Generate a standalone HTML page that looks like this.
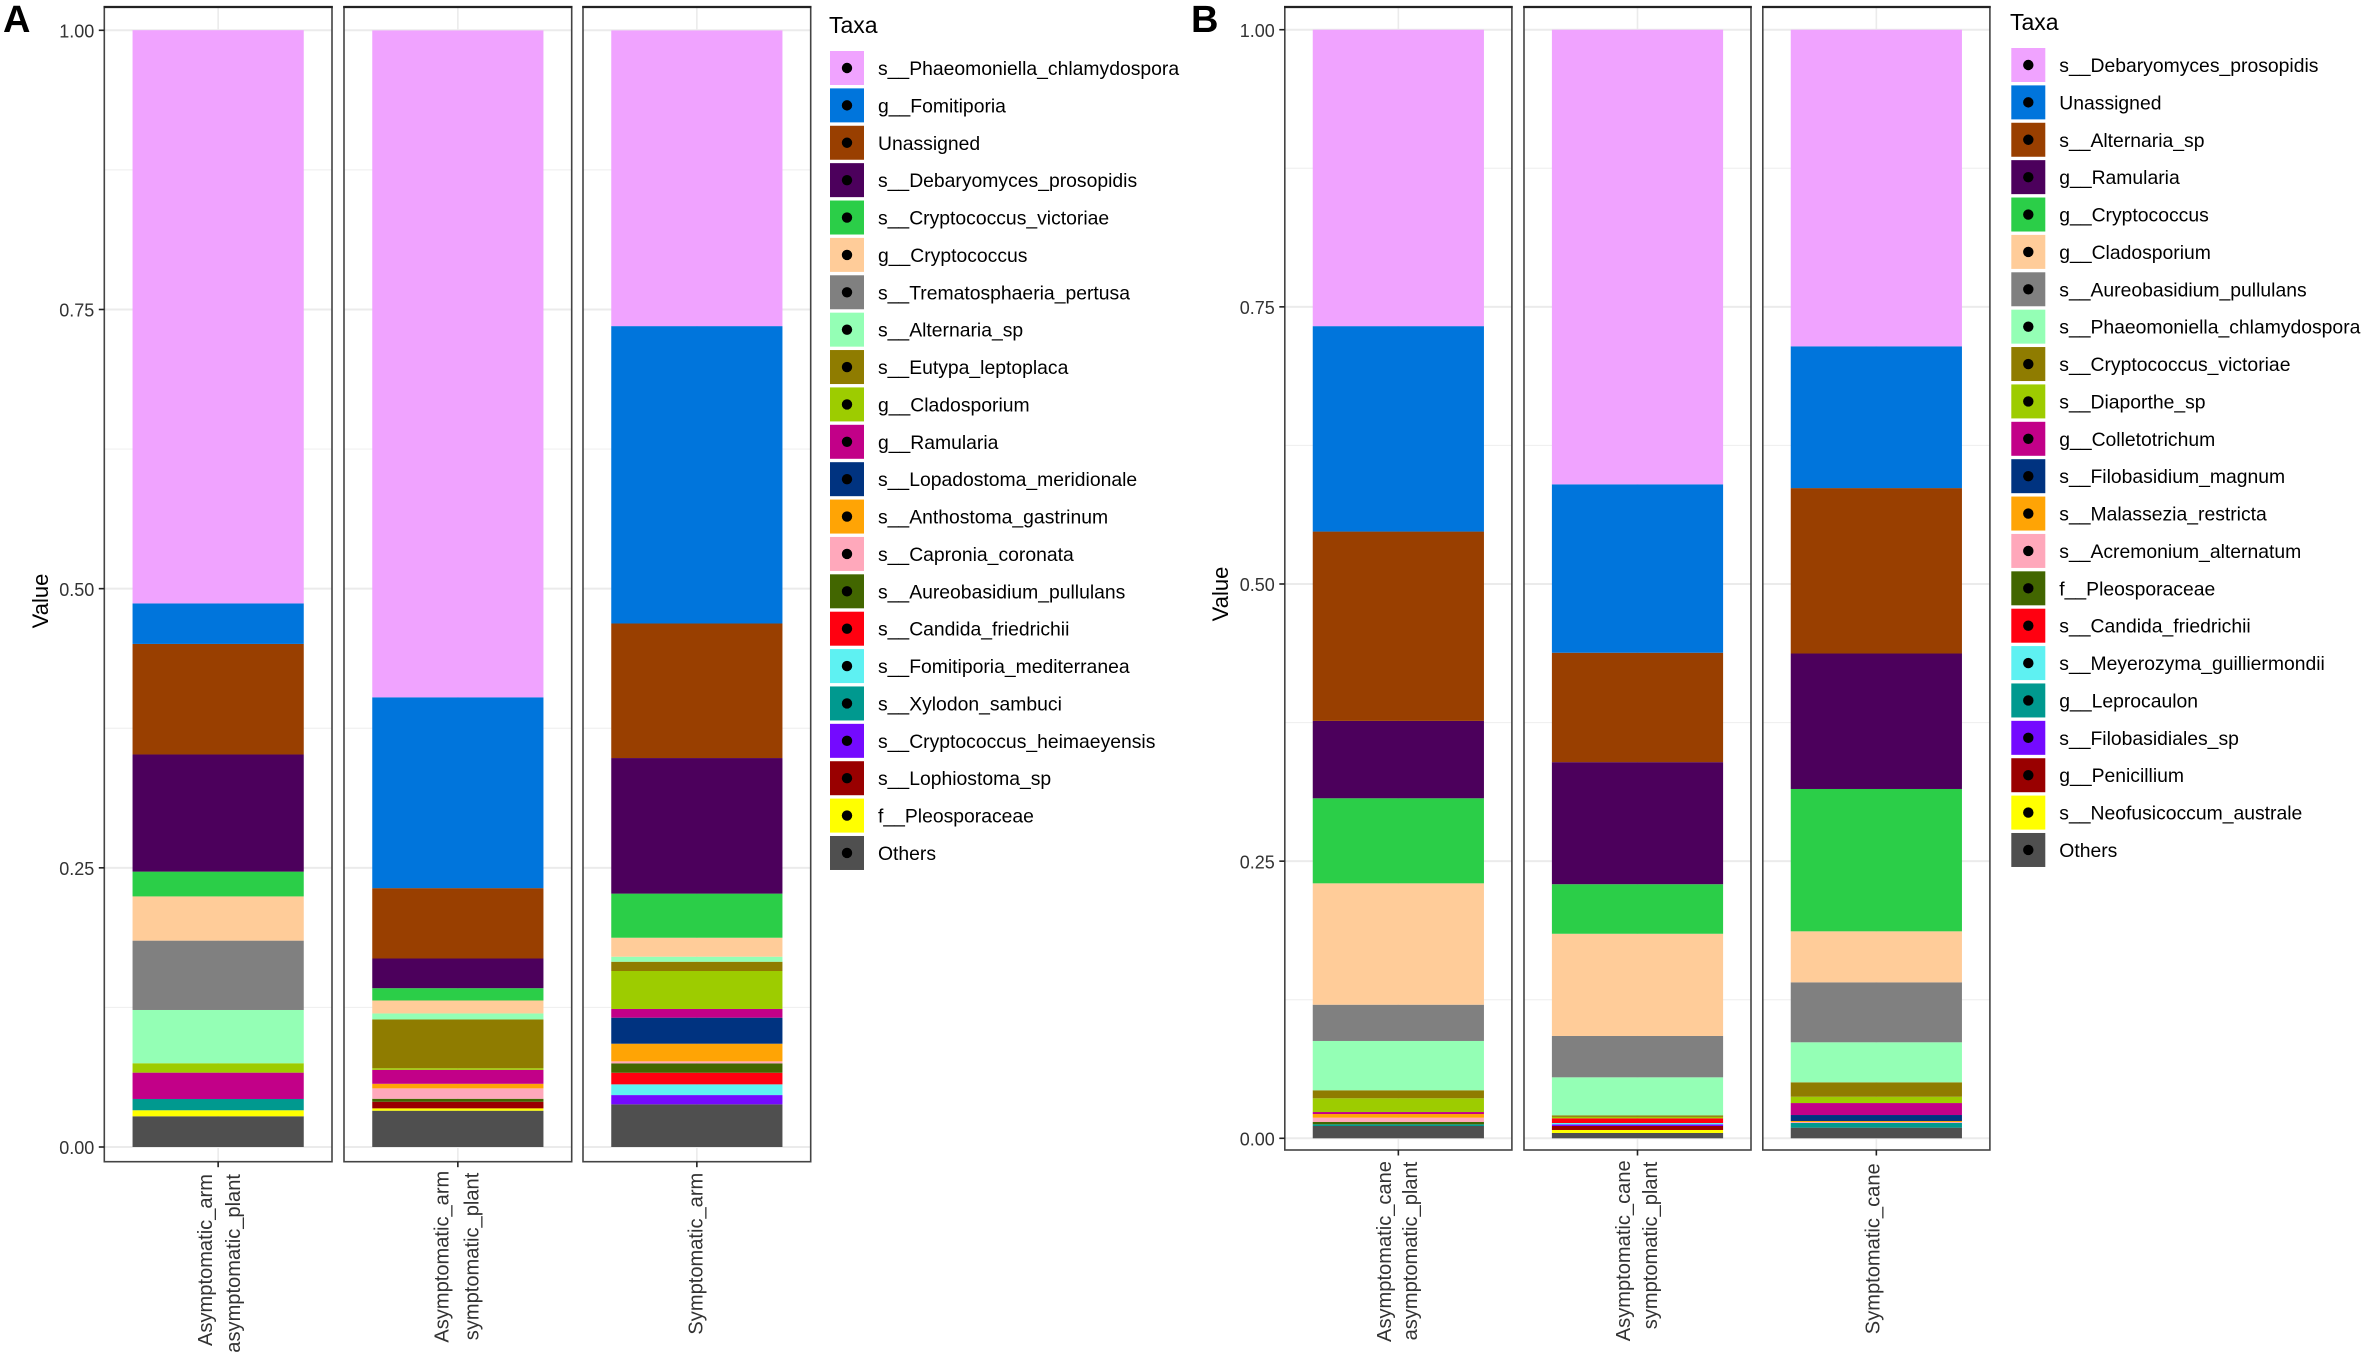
<!DOCTYPE html>
<html lang="en">
<head>
<meta charset="utf-8">
<title>Taxa relative abundance stacked bars</title>
<style>
html,body{margin:0;padding:0;background:#fff;width:2369px;height:1360px;overflow:hidden}
svg{display:block;font-family:"Liberation Sans",Arial,sans-serif}
</style>
</head>
<body>
<svg id="figure" xmlns="http://www.w3.org/2000/svg" width="2369" height="1360" viewBox="0 0 2369 1360">
  <rect x="0" y="0" width="2369" height="1360" fill="#fff"/>
  <text x="3" y="32" font-size="38" font-weight="bold" fill="#000">A</text>
  <text x="1191" y="32" font-size="38" font-weight="bold" fill="#000">B</text>
  <text transform="translate(48,601) rotate(-90)" text-anchor="middle" font-size="22" fill="#000">Value</text>
  <text transform="translate(1228,594) rotate(-90)" text-anchor="middle" font-size="22" fill="#000">Value</text>
  <text x="829" y="33" font-size="23" fill="#000">Taxa</text>
  <text x="2010" y="30" font-size="23" fill="#000">Taxa</text>
  <g id="chart-a"></g>
  <g id="chart-b"></g>
  <g id="legend-a"></g>
  <g id="legend-b"></g>
</svg>
<script>
const taxaA = ["s__Phaeomoniella_chlamydospora","g__Fomitiporia","Unassigned","s__Debaryomyces_prosopidis","s__Cryptococcus_victoriae","g__Cryptococcus","s__Trematosphaeria_pertusa","s__Alternaria_sp","s__Eutypa_leptoplaca","g__Cladosporium","g__Ramularia","s__Lopadostoma_meridionale","s__Anthostoma_gastrinum","s__Capronia_coronata","s__Aureobasidium_pullulans","s__Candida_friedrichii","s__Fomitiporia_mediterranea","s__Xylodon_sambuci","s__Cryptococcus_heimaeyensis","s__Lophiostoma_sp","f__Pleosporaceae","Others"];
const taxaB = ["s__Debaryomyces_prosopidis","Unassigned","s__Alternaria_sp","g__Ramularia","g__Cryptococcus","g__Cladosporium","s__Aureobasidium_pullulans","s__Phaeomoniella_chlamydospora","s__Cryptococcus_victoriae","s__Diaporthe_sp","g__Colletotrichum","s__Filobasidium_magnum","s__Malassezia_restricta","s__Acremonium_alternatum","f__Pleosporaceae","s__Candida_friedrichii","s__Meyerozyma_guilliermondii","g__Leprocaulon","s__Filobasidiales_sp","g__Penicillium","s__Neofusicoccum_australe","Others"];
const palette = ["#F0A3FF","#0075DC","#993F00","#4C005C","#2BCE48","#FFCC99","#808080","#94FFB5","#8F7C00","#9DCC00","#C20088","#003380","#FFA405","#FFA8BB","#426600","#FF0010","#5EF1F2","#00998F","#740AFF","#990000","#FFFF00","#4F4F4F"];
const yTickValues = [0, 0.25, 0.5, 0.75, 1];
const yTickLabels = ["0.00","0.25","0.50","0.75","1.00"];

const armAsymAsym = [.5133,.0363,.0990,.1049,.0222,.0396,.0621,.0477,0,.0084,.0236,0,0,0,0,0,0,.0101,0,0,.0054,.0275];
const armAsymSym  = [.5972,.1709,.0630,.0266,.0110,.0116,0,.0054,.0436,.0015,.0125,0,.0041,.0093,.0027,0,0,0,0,.0059,.0021,.0325];
const armSym      = [.2648,.2663,.1205,.1214,.0395,.0170,0,.0045,.0083,.0340,.0078,.0233,.0158,.0018,.0084,.0104,.0096,0,.0083,0,0,.0382];
const caneAsymAsym = [.2674,.1853,.1708,.0698,.0767,.1095,.0327,.0445,.0072,.0124,.0018,0,.0033,.0039,.0021,0,0,.0015,0,0,0,.0111];
const caneAsymSym  = [.4101,.1519,.0987,.1101,.0447,.0922,.0373,.0343,.0014,.0013,0,0,0,0,0,.0042,.0012,0,.0015,.0036,.0027,.0048];
const caneSym      = [.2856,.1279,.1492,.1222,.1284,.0460,.0541,.0361,.0130,.0057,.0108,.0054,.0009,.0009,0,0,0,.0042,0,0,0,.0096];

const NS = "http://www.w3.org/2000/svg";
function make(parent, tag, attrs, text) {
  const el = document.createElementNS(NS, tag);
  for (const k in attrs) el.setAttribute(k, attrs[k]);
  if (text !== undefined) el.textContent = text;
  parent.appendChild(el);
  return el;
}

function drawFacet(root, values, left, width, top, bottom, y0, y1, drawYAxis) {
  const yScale = v => y0 - v * (y0 - y1);
  const cx = left + width / 2;
  const barHalf = 85.6;

  const bg = make(root, "rect", {x: left, y: top, width: width, height: bottom - top, fill: "#fff"});
  
  

  for (let i = 0; i < yTickValues.length - 1; i++) {
    const my = yScale((yTickValues[i] + yTickValues[i + 1]) / 2);
    const minor = make(root, "line", {x1: left, x2: left + width, y1: my, y2: my, stroke: "#f0f0f0", "stroke-width": 1.2});
    
    
  }
  yTickValues.forEach(v => {
    const gy = yScale(v);
    const major = make(root, "line", {x1: left, x2: left + width, y1: gy, y2: gy, stroke: "#ebebeb", "stroke-width": 2});
    
    
  });
  const vgrid = make(root, "line", {x1: cx, x2: cx, y1: top, y2: bottom, stroke: "#ebebeb", "stroke-width": 1.6});
  
  

  let cum = 0;
  for (let i = values.length - 1; i >= 0; i--) {
    const yBase = yScale(cum);
    const yTop = yScale(cum + values[i]);
    const seg = make(root, "rect", {x: cx - barHalf, y: yTop, width: barHalf * 2, height: Math.max(0, yBase - yTop), fill: palette[i]});
    
    
    cum += values[i];
  }

  const border = make(root, "rect", {x: left, y: top, width: width, height: bottom - top, fill: "none", stroke: "#444", "stroke-width": 1.6});
  
  
  const topEdge = make(root, "line", {x1: left - 0.8, x2: left + width + 0.8, y1: top, y2: top, stroke: "#222", "stroke-width": 2.2});
  
  

  const xTick = make(root, "line", {x1: cx, x2: cx, y1: bottom, y2: bottom + 5.5, stroke: "#222", "stroke-width": 1.6});
  
  

  if (drawYAxis) {
    yTickValues.forEach((v, i) => {
      const ty = yScale(v);
      const tick = make(root, "line", {x1: left - 5.5, x2: left, y1: ty, y2: ty, stroke: "#222", "stroke-width": 1.6});
      
      
      const lab = make(root, "text", {x: left - 10, y: ty + 7.2, "text-anchor": "end", "font-size": 18, fill: "#333"}, yTickLabels[i]);
      
      
    });
  }
}

function xLabel(root, text, baselineX, endY) {
  const t = make(root, "text", {transform: "translate(" + baselineX + "," + endY + ") rotate(-90)", "text-anchor": "end", "font-size": 20.1, fill: "#333"}, text);
  
  
}

function drawLegend(root, names, swatchX, textX, firstCenter, step) {
  names.forEach((name, i) => {
    const cy = firstCenter + step * i;
    const sw = make(root, "rect", {x: swatchX, y: cy - 17, width: 34, height: 34, fill: palette[i]});
    
    
    const dot = make(root, "circle", {cx: swatchX + 17, cy: cy, r: 5.2, fill: "#000"});
    
    
    const lab = make(root, "text", {x: textX, y: cy + 7, "font-size": 19.35, fill: "#000"}, name);
    
    
  });
}

const chartA = document.getElementById("chart-a");
drawFacet(chartA, armAsymAsym, 104.3, 227.7, 7, 1161.7, 1147, 30.3, true);
drawFacet(chartA, armAsymSym, 344, 227.7, 7, 1161.7, 1147, 30.3, false);
drawFacet(chartA, armSym, 583, 227.7, 7, 1161.7, 1147, 30.3, false);
xLabel(chartA, "Asymptomatic_arm", 212, 1174);
xLabel(chartA, "asymptomatic_plant", 240, 1174);
xLabel(chartA, "Asymptomatic_arm", 448.4, 1170.7);
xLabel(chartA, "symptomatic_plant", 478.6, 1172.7);
xLabel(chartA, "Symptomatic_arm", 702.5, 1172.7);

const chartB = document.getElementById("chart-b");
drawFacet(chartB, caneAsymAsym, 1284.8, 227.1, 7, 1150, 1138.3, 29.7, true);
drawFacet(chartB, caneAsymSym, 1524, 227, 7, 1150, 1138.3, 29.7, false);
drawFacet(chartB, caneSym, 1762.8, 227.1, 7, 1150, 1138.3, 29.7, false);
xLabel(chartB, "Asymptomatic_cane", 1391, 1161);
xLabel(chartB, "asymptomatic_plant", 1417, 1161.7);
xLabel(chartB, "Asymptomatic_cane", 1630, 1160.3);
xLabel(chartB, "symptomatic_plant", 1657, 1161.7);
xLabel(chartB, "Symptomatic_cane", 1879.5, 1163.3);

drawLegend(document.getElementById("legend-a"), taxaA, 830, 878, 68, 37.38);
drawLegend(document.getElementById("legend-b"), taxaB, 2011.3, 2059.3, 65, 37.38);
</script>
</body>
</html>
